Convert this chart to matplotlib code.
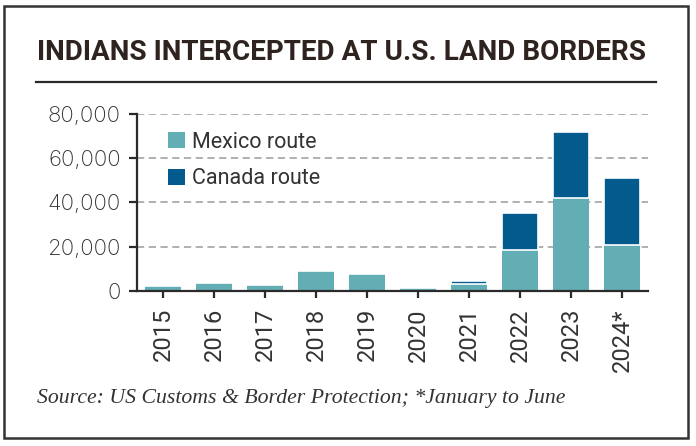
import matplotlib
matplotlib.use("Agg")
import matplotlib.pyplot as plt
from matplotlib.patches import Rectangle, Patch
from matplotlib.lines import Line2D
from matplotlib.ticker import FuncFormatter
import numpy as np

years = ["2015", "2016", "2017", "2018", "2019", "2020", "2021", "2022", "2023", "2024*"]
mexico = [2100, 3500, 2600, 8900, 7600, 1000, 2900, 18300, 42000, 20600]
canada = [0, 0, 0, 0, 0, 0, 1500, 17000, 29700, 30200]
yticks = [0, 20000, 40000, 60000, 80000]

MEX = "#63aeb5"
CAN = "#035a8c"
TXT = "#333333"

plt.rcParams["font.family"] = ["Roboto", "DejaVu Sans"]

fig = plt.figure(figsize=(6.96, 4.46), dpi=100)
W, H = 696, 446

# outer frame
fig.patches.append(Rectangle((4 / W, 1 - 438 / H), 684 / W, 432 / H, transform=fig.transFigure,
                             fill=False, edgecolor="#333333", linewidth=1.8))

fig.text(37 / W, 1 - 59.5 / H, "INDIANS INTERCEPTED AT U.S. LAND BORDERS",
         family=["Roboto", "DejaVu Sans"], fontweight="bold",
         fontsize=20.1, color="#2e231e", ha="left", va="baseline")
fig.add_artist(Line2D([36 / W, 656 / W], [1 - 82 / H, 1 - 82 / H], transform=fig.transFigure,
                      color="#2a2a2a", linewidth=1.6))

ax = fig.add_axes([136.7 / W, 1 - 290.7 / H, (648 - 136.7) / W, (290.7 - 114) / H])
x = np.arange(len(years))
ax.bar(x, mexico, width=0.7, color=MEX, zorder=2)
ax.bar(x, canada, width=0.7, bottom=mexico, color=CAN, edgecolor="white", linewidth=1.2, zorder=2)

ax.set_xlim(-0.52, 9.51)
ax.set_ylim(0, 80000)
ax.set_yticks(yticks)
ax.yaxis.set_major_formatter(FuncFormatter(lambda v, p: f"{int(v):,}"))
ax.set_xticks(x)
ax.set_xticklabels(years, rotation=90)

for v in yticks[1:]:
    ax.axhline(v, color="#aaaaaa", linewidth=1.3, linestyle=(0, (4, 2.5)), zorder=1)

for s in ["top", "right"]:
    ax.spines[s].set_visible(False)
for s in ["left", "bottom"]:
    ax.spines[s].set_color("#2a2a2a")
    ax.spines[s].set_linewidth(1.6)

ax.tick_params(axis="y", length=6, width=1.6, color="#2a2a2a", labelsize=16, labelcolor=TXT, pad=5.5)
ax.tick_params(axis="x", length=5, width=1.6, color="#2a2a2a", labelsize=17, labelcolor=TXT, pad=7.5)
for lab in ax.get_yticklabels():
    lab.set_family(["Inter", "DejaVu Sans"])
    lab.set_fontweight("light")

handles = [Patch(facecolor=MEX, label="Mexico route"), Patch(facecolor=CAN, label="Canada route")]
leg = ax.legend(handles=handles, loc="upper left", bbox_to_anchor=(0.061, 0.90), frameon=False,
                fontsize=15.5, handlelength=0.78, handleheight=0.78, handletextpad=0.34,
                labelspacing=0.72, borderpad=0, borderaxespad=0)
for t in leg.get_texts():
    t.set_color(TXT)

fig.text(37 / W, 1 - 398 / H, "Source: US Customs & Border Protection; *January to June",
         family=["Liberation Serif", "DejaVu Serif"], style="italic", fontsize=15.7,
         color=TXT, ha="left", va="center")

fig.savefig("out.png", dpi=100)
